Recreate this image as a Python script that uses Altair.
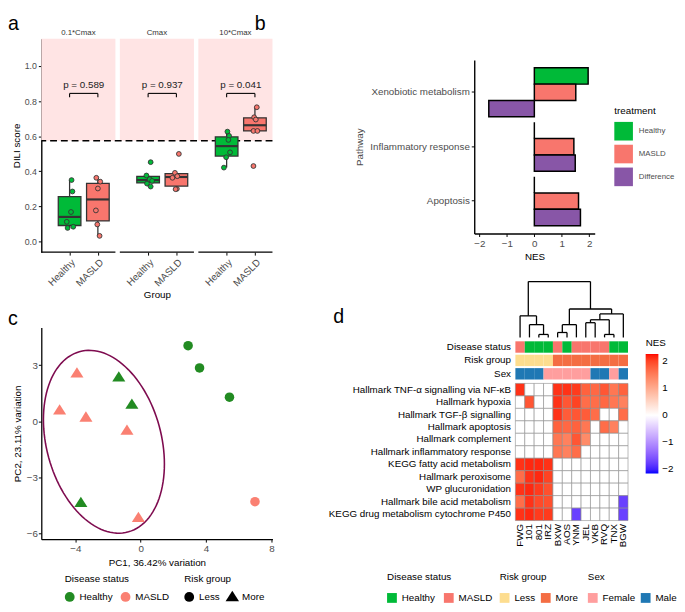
import numpy as np
import pandas as pd
import altair as alt

FONT = "Liberation Sans"
GRAY = "#4D4D4D"
GREEN = "#00BA38"
SALMON = "#F8766D"
PURPLE = "#8856A7"
PINK = "#FFE4E4"
BOXLINE = "#333333"

# ---------------- Panel a data ----------------
conc_levels = ["0.1*Cmax", "Cmax", "10*Cmax"]
group_levels = ["Healthy", "MASLD"]
p_values = ["p = 0.589", "p = 0.937", "p = 0.041"]
dili_threshold = 0.574
bracket_y = 0.844
bracket_tip = 0.822
p_text_y = 0.872

low_healthy = [0.350, 0.285, 0.168, 0.112, 0.077, 0.084]
low_healthy_jit = [0.07, 0.10, 0.05, -0.10, -0.07, 0.13]
low_masld = [0.363, 0.341, 0.302, 0.177, 0.097, 0.032]
low_masld_jit = [-0.055, 0.083, 0.0, -0.07, -0.02, 0.06]
mid_healthy = [0.452, 0.376, 0.355, 0.345, 0.330, 0.313]
mid_healthy_jit = [0.09, -0.06, 0.055, 0.14, -0.04, 0.09]
mid_masld = [0.499, 0.391, 0.372, 0.363, 0.300, 0.298]
mid_masld_jit = [0.087, -0.052, 0.031, -0.14, 0.017, -0.028]
high_healthy = [0.626, 0.602, 0.579, 0.508, 0.480, 0.421]
high_healthy_jit = [0.028, 0.087, 0.062, 0.12, -0.017, -0.097]
high_masld = [0.765, 0.708, 0.695, 0.630, 0.630, 0.430]
high_masld_jit = [0.066, -0.028, 0.031, -0.052, 0.087, -0.052]

# ---------------- Panel b data ----------------
pathways = ["Xenobiotic metabolism", "Inflammatory response", "Apoptosis"]
treatments = ["Healthy", "MASLD", "Difference"]
nes_healthy = [1.96, 0.0, 0.0]
nes_masld = [1.51, 1.44, 1.61]
nes_diff = [-1.66, 1.49, 1.68]

# ---------------- Panel c data ----------------
pc1 = [2.90, 3.60, 5.43, 6.99, -3.90, -4.96, -3.35, -0.84, -0.14, -1.34, -0.54, -3.66]
pc2 = [4.05, 2.86, 1.29, -4.31, 2.57, 0.59, 0.21, -0.49, -5.17, 2.36, 0.90, -4.36]
pc_status = ["Healthy", "Healthy", "Healthy", "MASLD", "MASLD", "MASLD", "MASLD",
             "MASLD", "MASLD", "Healthy", "Healthy", "Healthy"]
pc_risk = ["Less", "Less", "Less", "Less", "More", "More", "More", "More",
           "More", "More", "More", "More"]
ellipse_center = [-2.25, -1.10]
ellipse_cov = [[13.69, -4.41], [-4.41, 24.01]]

# ---------------- Panel d data ----------------
samples = ["FWG", "101", "801", "IRZ", "BXW", "AOS", "YNM", "JEL", "VKB", "RVQ", "TNX", "BGW"]
disease_status = ["MASLD", "Healthy", "Healthy", "Healthy", "MASLD", "Healthy",
                  "MASLD", "MASLD", "MASLD", "MASLD", "Healthy", "Healthy"]
risk_group = ["Less", "Less", "Less", "Less", "More", "More", "More", "More",
              "More", "More", "More", "More"]
sex = ["Male", "Male", "Male", "Female", "Female", "Female", "Female", "Female",
       "Male", "Male", "Female", "Male"]
heat_rows = [
    "Hallmark TNF-\u03b1 signalling via NF-\u03baB",
    "Hallmark hypoxia",
    "Hallmark TGF-\u03b2 signalling",
    "Hallmark apoptosis",
    "Hallmark complement",
    "Hallmark inflammatory response",
    "KEGG fatty acid metabolism",
    "Hallmark peroxisome",
    "WP glucuronidation",
    "Hallmark bile acid metabolism",
    "KEGG drug metabolism cytochrome P450",
]
nes_tnf = [2.1, 0, 0, 0, 2.1, 2.1, 2.05, 1.75, 1.7, 1.85, 1.55, 1.75]
nes_hypoxia = [0, 1.85, 0, 0, 2.1, 1.85, 2.0, 1.65, 1.65, 1.7, 1.55, 1.45]
nes_tgfb = [0, 0, 0, 0, 2.1, 1.8, 1.85, 1.8, 1.65, 0, 0, 1.65]
nes_apoptosis = [0, 0, 0, 0, 1.75, 1.7, 1.75, 1.55, 0, 1.65, 1.45, 0]
nes_complement = [0, 0, 0, 0, 1.55, 1.45, 1.85, 1.35, 0, 0, 0, 0]
nes_inflam = [0, 0, 0, 0, 1.55, 1.45, 1.65, 0, 0, 0, 0, 0]
nes_fatty = [2.1, 2.15, 2.15, 2.1, 0, 0, 0, 0, 0, 0, 0, 0]
nes_perox = [1.65, 2.1, 2.15, 2.0, 0, 0, 0, 0, 0, 0, 0, 0]
nes_glucur = [2.1, 2.15, 2.05, 1.9, 0, 0, 0, 0, 0, 0, 0, 0]
nes_bile = [1.65, 2.1, 1.95, 1.9, 0, 0, 0, 0, 0, 0, 0, -1.75]
nes_p450 = [2.1, 2.15, 2.05, 2.05, 0, 0, -1.75, 0, 0, 0, 0, -1.75]
heat_values = [nes_tnf, nes_hypoxia, nes_tgfb, nes_apoptosis, nes_complement, nes_inflam,
               nes_fatty, nes_perox, nes_glucur, nes_bile, nes_p450]
nes_ticks = [-2, -1, 0, 1, 2]

# dendrogram merges (children, height)
merge_left = ["801", "101", "FWG", "BXW", "m4", "JEL", "RVQ", "m6", "m8", "m5", "m3"]
merge_right = ["IRZ", "m1", "m2", "AOS", "YNM", "VKB", "TNX", "m7", "BGW", "m9", "m10"]
merge_height = [3, 13, 22, 5, 13, 15, 3, 18, 24, 29, 57]

dummy = pd.DataFrame({"k": [0]})


def letter(txt, x, y, baseline="top"):
    return alt.Chart(dummy).mark_text(
        text=txt, fontSize=20, align="left", baseline=baseline, color="black"
    ).encode(x=alt.value(x), y=alt.value(y))


# =============== Panel a =================
A_W, A_H = 236, 218
FW, FGAP = 2.62, 0.156
FSTEP = FW + FGAP
XMAX = 3 * FW + 2 * FGAP

series = [
    (0, "Healthy", low_healthy, low_healthy_jit),
    (0, "MASLD", low_masld, low_masld_jit),
    (1, "Healthy", mid_healthy, mid_healthy_jit),
    (1, "MASLD", mid_masld, mid_masld_jit),
    (2, "Healthy", high_healthy, high_healthy_jit),
    (2, "MASLD", high_masld, high_masld_jit),
]
pt_rows, box_rows = [], []
for k, g, vals, jit in series:
    gi = group_levels.index(g) + 1
    c = k * FSTEP + gi
    for v, j in zip(vals, jit):
        pt_rows.append(dict(group=g, pos=c + j, value=v))
    q1, med, q3 = np.percentile(vals, [25, 50, 75])
    iqr = q3 - q1
    lo = min(v for v in vals if v >= q1 - 1.5 * iqr)
    hi = max(v for v in vals if v <= q3 + 1.5 * iqr)
    box_rows.append(dict(group=g, xc=c, x1=c - 0.4, x2=c + 0.4,
                         q1=q1, med=med, q3=q3, lo=lo, hi=hi))
pts_a = pd.DataFrame(pt_rows)
box_a = pd.DataFrame(box_rows)

facet_df = pd.DataFrame({
    "conc": conc_levels,
    "p": p_values,
    "start": [k * FSTEP for k in range(3)],
    "end": [k * FSTEP + FW for k in range(3)],
    "mid": [k * FSTEP + FW / 2 for k in range(3)],
    "b1": [k * FSTEP + 1 for k in range(3)],
    "b2": [k * FSTEP + 2 for k in range(3)],
    "bm": [k * FSTEP + 1.5 for k in range(3)],
    "by": [bracket_y] * 3,
    "bt": [bracket_tip] * 3,
    "py": [p_text_y] * 3,
})
tips_df = pd.DataFrame({
    "bx": list(facet_df["b1"]) + list(facet_df["b2"]),
    "by": [bracket_y] * 6,
    "bt": [bracket_tip] * 6,
})

xa = alt.Scale(domain=[0, XMAX], nice=False, zero=False)
ya = alt.Scale(domain=[-0.061, 1.156], nice=False, zero=False)
col_a = alt.Scale(domain=group_levels, range=[GREEN, SALMON])

tick_vals = [k * FSTEP + i for k in range(3) for i in (1, 2)]
x_axis_a = alt.Axis(
    values=tick_vals,
    labelExpr=f"(datum.value - floor(datum.value / {FSTEP}) * {FSTEP}) < 1.5 ? 'Healthy' : 'MASLD'",
    labelAngle=315, labelAlign="right", labelBaseline="top",
    labelFontSize=10, labelColor=GRAY, labelPadding=2, labelFlush=False, labelOverlap=False,
    tickColor="black", tickSize=3, tickWidth=1, domain=False, grid=False,
    title="Group", titleFontSize=10, titleFontWeight="normal", titleColor="black", titlePadding=2,
)
y_axis_a = alt.Axis(
    values=[0, 0.2, 0.4, 0.6, 0.8, 1.0], format=".1f",
    labelFontSize=9, labelColor=GRAY, labelPadding=2,
    tickColor="black", tickSize=3, tickWidth=1,
    domainColor="black", domainWidth=1.4, grid=False,
    title="DILI score", titleFontSize=10, titleFontWeight="normal", titleColor="black", titlePadding=3,
)


def XA(f):
    return alt.X(f, scale=xa, axis=x_axis_a)


def YA(f):
    return alt.Y(f, scale=ya, axis=y_axis_a)


pink = alt.Chart(facet_df).mark_rect(color=PINK).encode(
    x=XA("start:Q"), x2="end:Q",
    y=alt.YDatum(dili_threshold, scale=ya, axis=y_axis_a),
    y2=alt.value(0),
)
dash = alt.Chart(dummy).mark_rule(color="black", strokeDash=[7, 4], strokeWidth=1.4).encode(
    y=alt.YDatum(dili_threshold, scale=ya, axis=y_axis_a)
)
xline = alt.Chart(facet_df).mark_rule(color="black", strokeWidth=1.4).encode(
    x=XA("start:Q"), x2="end:Q", y=alt.value(A_H)
)
whisk_lo = alt.Chart(box_a).mark_rule(color=BOXLINE, strokeWidth=1.3).encode(
    x=XA("xc:Q"), y=YA("lo:Q"), y2="q1:Q"
)
whisk_hi = alt.Chart(box_a).mark_rule(color=BOXLINE, strokeWidth=1.3).encode(
    x=XA("xc:Q"), y=YA("q3:Q"), y2="hi:Q"
)
boxes = alt.Chart(box_a).mark_rect(stroke=BOXLINE, strokeWidth=1.3).encode(
    x=XA("x1:Q"), x2="x2:Q", y=YA("q1:Q"), y2="q3:Q",
    color=alt.Color("group:N", scale=col_a, legend=None),
)
medians = alt.Chart(box_a).mark_rule(color=BOXLINE, strokeWidth=2.2).encode(
    x=XA("x1:Q"), x2="x2:Q", y=YA("med:Q")
)
points_a = alt.Chart(pts_a).mark_circle(size=24, stroke=BOXLINE, strokeWidth=0.9, opacity=1).encode(
    x=XA("pos:Q"), y=YA("value:Q"),
    color=alt.Color("group:N", scale=col_a, legend=None),
)
br_h = alt.Chart(facet_df).mark_rule(color="black", strokeWidth=1.1).encode(
    x=XA("b1:Q"), x2="b2:Q", y=YA("by:Q")
)
br_v = alt.Chart(tips_df).mark_rule(color="black", strokeWidth=1.1).encode(
    x=XA("bx:Q"), y=YA("bt:Q"), y2="by:Q"
)
ptext = alt.Chart(facet_df).mark_text(fontSize=10, color="#222222", baseline="alphabetic").encode(
    x=XA("bm:Q"), y=YA("py:Q"), text="p:N"
)
headers = alt.Chart(facet_df).mark_text(fontSize=8, color="#333333", baseline="alphabetic").encode(
    x=XA("mid:Q"), y=alt.value(-4), text="conc:N"
)

A = alt.layer(pink, dash, xline, whisk_lo, whisk_hi, boxes, medians, points_a,
              br_h, br_v, ptext, headers, letter("a", -34, -25)).properties(width=A_W, height=A_H)

# =============== Panel b =================
B_W, B_H = 123, 199
b_df = pd.DataFrame({
    "Pathway": pathways * 3,
    "treatment": [t for t in treatments for _ in pathways],
    "NES": nes_healthy + nes_masld + nes_diff,
})
b_x_scale = alt.Scale(domain=[-2.19, 2.2], nice=False, zero=False)
b_y_scale = alt.Scale(range=[21.7, B_H], paddingInner=0.1, paddingOuter=0.145)
b_off_scale = alt.Scale(paddingInner=0, paddingOuter=0)
b_y_axis = alt.Axis(labelFontSize=10, labelColor=GRAY, labelPadding=2, labelLimit=300,
                    tickColor="black", tickSize=3, domainColor="black", domainWidth=1.4,
                    title="Pathway", titleFontSize=10, titleFontWeight="normal",
                    titleColor=GRAY, titlePadding=5)
b_x_axis = alt.Axis(values=[-2, -1, 0, 1, 2], format="d", labelFontSize=10, labelColor=GRAY,
                    labelFlush=False, labelPadding=2, tickColor="black", tickSize=3,
                    domainColor="black", domainWidth=1.4, grid=False,
                    title="NES", titleFontSize=10, titleFontWeight="normal",
                    titleColor="black", titlePadding=3)
b_color = alt.Color("treatment:N", sort=treatments,
                    scale=alt.Scale(domain=treatments, range=[GREEN, SALMON, PURPLE]),
                    legend=alt.Legend(title="treatment", orient="none", legendX=143, legendY=69,
                                      symbolType="square", symbolSize=361, symbolStrokeWidth=0,
                                      labelFontSize=8, labelColor=GRAY, labelOffset=6,
                                      titleFontSize=10, titleFontWeight="normal", titleColor="black",
                                      titlePadding=6, rowPadding=4.3, padding=0))
bars = alt.Chart(b_df).mark_bar(stroke="black", strokeWidth=1.5).encode(
    y=alt.Y("Pathway:N", sort=pathways, scale=b_y_scale, axis=b_y_axis),
    yOffset=alt.YOffset("treatment:N", sort=treatments, scale=b_off_scale),
    x=alt.X("NES:Q", scale=b_x_scale, axis=b_x_axis),
    x2=alt.datum(0),
    color=b_color,
)
zero_bars = alt.Chart(b_df[b_df["NES"] == 0]).mark_rule(color="black", strokeWidth=1.6).encode(
    y=alt.Y("Pathway:N", sort=pathways, scale=b_y_scale, axis=b_y_axis),
    yOffset=alt.YOffset("treatment:N", sort=treatments, scale=b_off_scale),
    x=alt.X("NES:Q", scale=b_x_scale, axis=b_x_axis),
)
B = alt.layer(bars, zero_bars, letter("b", -224, -25)).properties(width=B_W, height=B_H)

# =============== Panel c =================
C_W, C_H = 236, 263
pc_df = pd.DataFrame({"PC1": pc1, "PC2": pc2, "status": pc_status, "risk": pc_risk})
tt = np.linspace(0, 2 * np.pi, 121)
Lc = np.linalg.cholesky(np.array(ellipse_cov))
ell = np.array(ellipse_center)[:, None] + Lc @ np.vstack([np.cos(tt), np.sin(tt)])
ell_df = pd.DataFrame({"PC1": ell[0], "PC2": ell[1], "t": np.arange(len(tt))})

xc = alt.Scale(domain=[-6.08, 8.06], nice=False, zero=False)
yc = alt.Scale(domain=[-6.32, 5.02], nice=False, zero=False, range=[C_H, 47])
TRI = "M0,-1.25L1.37,0.9L-1.37,0.9Z"
x_axis_c = alt.Axis(values=[-4, 0, 4, 8], format="d", labelFontSize=10, labelColor=GRAY,
                    labelFlush=False, labelPadding=2, tickColor="black", tickSize=3,
                    domainColor="black", domainWidth=1.3, grid=False,
                    title="PC1, 36.42% variation", titleFontSize=10, titleFontWeight="normal",
                    titleColor="black", titlePadding=4)
y_axis_c = alt.Axis(values=[-6, -3, 0, 3], format="d", labelFontSize=10, labelColor=GRAY,
                    labelPadding=1, tickColor="black", tickSize=3,
                    domainColor="black", domainWidth=1.3, grid=False,
                    title="PC2, 23.11% variation", titleFontSize=10, titleFontWeight="normal",
                    titleColor="black", titlePadding=4)

ellipse = alt.Chart(ell_df).mark_line(color="#7E0B4F", strokeWidth=1.6).encode(
    x=alt.X("PC1:Q", scale=xc, axis=x_axis_c), y=alt.Y("PC2:Q", scale=yc, axis=y_axis_c), order="t:Q"
)
pts_c = alt.Chart(pc_df).mark_point(filled=True, size=95, opacity=1).encode(
    x=alt.X("PC1:Q", scale=xc, axis=x_axis_c),
    y=alt.Y("PC2:Q", scale=yc, axis=y_axis_c),
    color=alt.Color("status:N", scale=alt.Scale(domain=["Healthy", "MASLD"], range=["#228B22", "#FA8072"]),
                    legend=alt.Legend(title="Disease status", orient="none", legendX=24, legendY=299,
                                      direction="horizontal", symbolType="circle", symbolSize=100,
                                      symbolStrokeWidth=0, labelFontSize=10, labelColor="black",
                                      labelOffset=5, columnPadding=8, titleFontSize=10,
                                      titleFontWeight="normal", titleColor="black", titlePadding=8,
                                      padding=0)),
    shape=alt.Shape("risk:N", scale=alt.Scale(domain=["Less", "More"], range=["circle", TRI]),
                    legend=alt.Legend(title="Risk group", orient="none", legendX=146, legendY=299,
                                      direction="horizontal", symbolSize=100, symbolFillColor="black",
                                      symbolStrokeWidth=0, labelFontSize=10, labelColor="black",
                                      labelOffset=5, columnPadding=5, titleFontSize=10,
                                      titleFontWeight="normal", titleColor="black", titlePadding=8,
                                      padding=0)),
)
C = alt.layer(ellipse, pts_c, letter("c", -34, 44, "alphabetic")).properties(width=C_W, height=C_H)

# =============== Panel d =================
D_W, D_H = 160, 244
HX = [42, 157]

# dendrogram segments
pos = {s: float(i) for i, s in enumerate(samples)}
hgt = {s: 0.0 for s in samples}
seg = []
for i, (l, r, h) in enumerate(zip(merge_left, merge_right, merge_height)):
    xl, xr = pos[l], pos[r]
    seg.append(dict(x=xl, x2=xl, y=hgt[l], y2=h))
    seg.append(dict(x=xr, x2=xr, y=hgt[r], y2=h))
    seg.append(dict(x=xl, x2=xr, y=h, y2=h))
    m = f"m{i + 1}"
    pos[m] = (xl + xr) / 2
    hgt[m] = h
dendro_df = pd.DataFrame(seg)

dendro = alt.Chart(dendro_df).mark_rule(color="black", strokeWidth=1.3).encode(
    x=alt.X("x:Q", scale=alt.Scale(domain=[-0.5, 11.5], range=HX, nice=False, zero=False), axis=None),
    x2="x2:Q",
    y=alt.Y("y:Q", scale=alt.Scale(domain=[0, 57], range=[57, 0], nice=False, zero=False), axis=None),
    y2="y2:Q",
)

tracks = ["Disease status", "Risk group", "Sex"]
row_axis = dict(orient="left", offset=-42, labelPadding=5, ticks=False, domain=False,
                labelFontSize=10, labelColor="black", labelLimit=300, title=None)
x_band = alt.Scale(domain=samples, range=HX, paddingInner=0, paddingOuter=0)
y_track = alt.Scale(domain=tracks, range=[61, 100], paddingInner=0.15, paddingOuter=0)


def annot_layer(track, values, dom, rng, legx, colpad):
    df = pd.DataFrame({"sample": samples, "track": track, "val": values})
    return alt.Chart(df).mark_rect().encode(
        x=alt.X("sample:N", scale=x_band, sort=samples, axis=None),
        y=alt.Y("track:N", scale=y_track, sort=tracks, axis=alt.Axis(**row_axis)),
        color=alt.Color("val:N", scale=alt.Scale(domain=dom, range=rng),
                        legend=alt.Legend(title=track, orient="none", legendX=legx, legendY=297,
                                          direction="horizontal", symbolType="square", symbolSize=100,
                                          symbolStrokeWidth=0, labelFontSize=10, labelColor="black",
                                          labelOffset=5, columnPadding=colpad, titleFontSize=10,
                                          titleFontWeight="normal", titleColor="black",
                                          titlePadding=11, padding=0)),
    )


annot = alt.layer(
    annot_layer("Disease status", disease_status, ["Healthy", "MASLD"], [GREEN, SALMON], -89, 9),
    annot_layer("Risk group", risk_group, ["Less", "More"], ["#FDDD8F", "#F46D43"], 26, 5),
    annot_layer("Sex", sex, ["Female", "Male"], ["#FF9E9E", "#1F78B4"], 116, 5),
).resolve_scale(color="independent")

heat_df = pd.DataFrame([
    dict(row=r, sample=s, NES=v)
    for r, vals in zip(heat_rows, heat_values) for s, v in zip(samples, vals)
])
nes_scale = alt.Scale(domain=[-2.15, 0, 2.25], range=["#0000FF", "#FFFFFF", "#FF0000"],
                      interpolate="lab")
heat = alt.Chart(heat_df).mark_rect(stroke="#8C8C8C", strokeWidth=0.6).encode(
    x=alt.X("sample:N", scale=x_band, sort=samples,
            axis=alt.Axis(labelAngle=270, labelAlign="right", labelBaseline="middle",
                          labelFontSize=10, labelColor="black", labelPadding=3,
                          ticks=False, domain=False, title=None)),
    y=alt.Y("row:N", sort=heat_rows,
            scale=alt.Scale(domain=heat_rows, range=[104, D_H], paddingInner=0, paddingOuter=0),
            axis=alt.Axis(**row_axis)),
    color=alt.Color("NES:Q", scale=nes_scale,
                    legend=alt.Legend(title="NES", orient="none", legendX=175, legendY=58,
                                      direction="vertical", gradientLength=122, gradientThickness=13,
                                      gradientStrokeWidth=0, values=nes_ticks,
                                      labelFontSize=10, labelColor="black", labelOverlap=False,
                                      labelOffset=4, titleFontSize=10, titleFontWeight="normal",
                                      titleColor="black", titlePadding=6, padding=0)),
)

D = alt.layer(dendro, annot, heat, letter("d", -144, 42, "alphabetic")).resolve_scale(
    x="independent", y="independent", color="independent"
).properties(width=D_W, height=D_H)

chart = alt.concat(
    A, B, C, D, columns=2,
    spacing=alt.RowColnumber(row=30, column=206),
    bounds="flush", align="each", padding=0,
).resolve_scale(
    color="independent", shape="independent"
).resolve_legend(
    color="independent", shape="independent"
).configure(font=FONT).configure_view(stroke=None)

chart.save("out.html", embed_options={"renderer": "svg", "actions": False})
